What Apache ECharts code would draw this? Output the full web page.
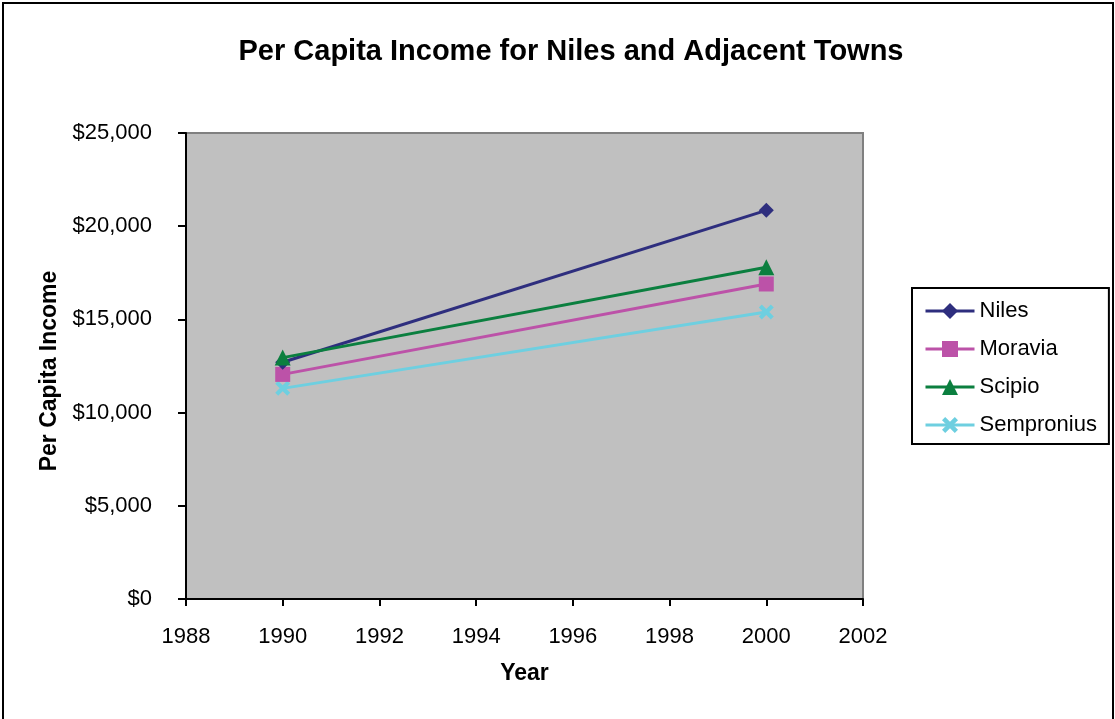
<!DOCTYPE html>
<html>
<head>
<meta charset="utf-8">
<script src="https://cdn.jsdelivr.net/npm/echarts@6/dist/echarts.min.js"></script>
<style>
html,body{margin:0;padding:0;background:#fff;}
#chart{width:1115px;height:719px;}
</style>
</head>
<body>
<div id="chart"></div>
<script>
const years = [1990, 2000];
const seriesNames = ['Niles', 'Moravia', 'Scipio', 'Sempronius'];
const niles = [12700, 20850];
const moravia = [12050, 16900];
const scipio = [12950, 17800];
const sempronius = [11300, 15400];
const yTicks = [0, 5000, 10000, 15000, 20000, 25000];

const colors = ['#2E2E7E', '#BC52A8', '#0B7F3F', '#6ECFE0'];
const symbols = ['diamond', 'rect', 'triangle',
  'path://M0,2L2,0L5,3L8,0L10,2L7,5L10,8L8,10L5,7L2,10L0,8L3,5Z'];
const sizes = [15, 15, 16, 15];
const values = [niles, moravia, scipio, sempronius];

const chart = echarts.init(document.getElementById('chart'));
const font = 'Liberation Sans, Arial, sans-serif';

chart.setOption({
  backgroundColor: '#fff',
  animation: false,
  title: {
    text: 'Per Capita Income for Niles and Adjacent Towns',
    left: 566, textAlign: 'center', top: 32,
    textStyle: {fontFamily: font, fontSize: 29, fontWeight: 'bold', color: '#000'}
  },
  graphic: [{
    type: 'rect', shape: {x: 3, y: 3, width: 1110, height: 730},
    style: {fill: 'none', stroke: '#000', lineWidth: 2}, silent: true
  }],
  legend: {
    orient: 'vertical', left: 912, top: 288,
    padding: [12, 12, 8, 12],
    borderColor: '#000', borderWidth: 2,
    itemWidth: 49, itemHeight: 20, itemGap: 16,
    lineStyle: {width: 3},
    textStyle: {fontFamily: font, fontSize: 22, color: '#000', lineHeight: 22},
    data: seriesNames
  },
  grid: {
    left: 186, top: 133, width: 677, height: 466,
    show: true, backgroundColor: '#C0C0C0', borderColor: '#808080', borderWidth: 2,
    containLabel: false
  },
  xAxis: {
    type: 'value', min: 1988, max: 2002, interval: 2,
    name: 'Year', nameLocation: 'middle', nameGap: 63,
    nameTextStyle: {fontFamily: font, fontSize: 23, fontWeight: 'bold', color: '#000'},
    axisLine: {show: true, onZero: false, lineStyle: {color: '#000', width: 2}},
    axisTick: {show: true, length: 7, lineStyle: {color: '#000', width: 2}},
    axisLabel: {fontFamily: font, fontSize: 22, color: '#000', margin: 27,
      formatter: v => String(v)},
    splitLine: {show: false}
  },
  yAxis: {
    type: 'value', min: 0, max: 25000, interval: 5000,
    name: 'Per Capita Income', nameLocation: 'middle', nameGap: 115,
    nameTextStyle: {fontFamily: font, fontSize: 23, fontWeight: 'bold', color: '#000',
      padding: [0, 10, 0, 0]},
    axisLine: {show: true, lineStyle: {color: '#000', width: 2}},
    axisTick: {show: true, length: 8, lineStyle: {color: '#000', width: 2}},
    axisLabel: {fontFamily: font, fontSize: 22, color: '#000', margin: 34,
      formatter: v => '$' + v.toLocaleString('en-US')},
    splitLine: {show: false}
  },
  series: seriesNames.map((n, i) => ({
    name: n, type: 'line',
    data: years.map((y, j) => [y, values[i][j]]),
    symbol: symbols[i], symbolSize: sizes[i],
    lineStyle: {color: colors[i], width: 3},
    itemStyle: {color: colors[i]},
    z: [3, 2, 4, 1][i]
  }))
});
</script>
</body>
</html>
